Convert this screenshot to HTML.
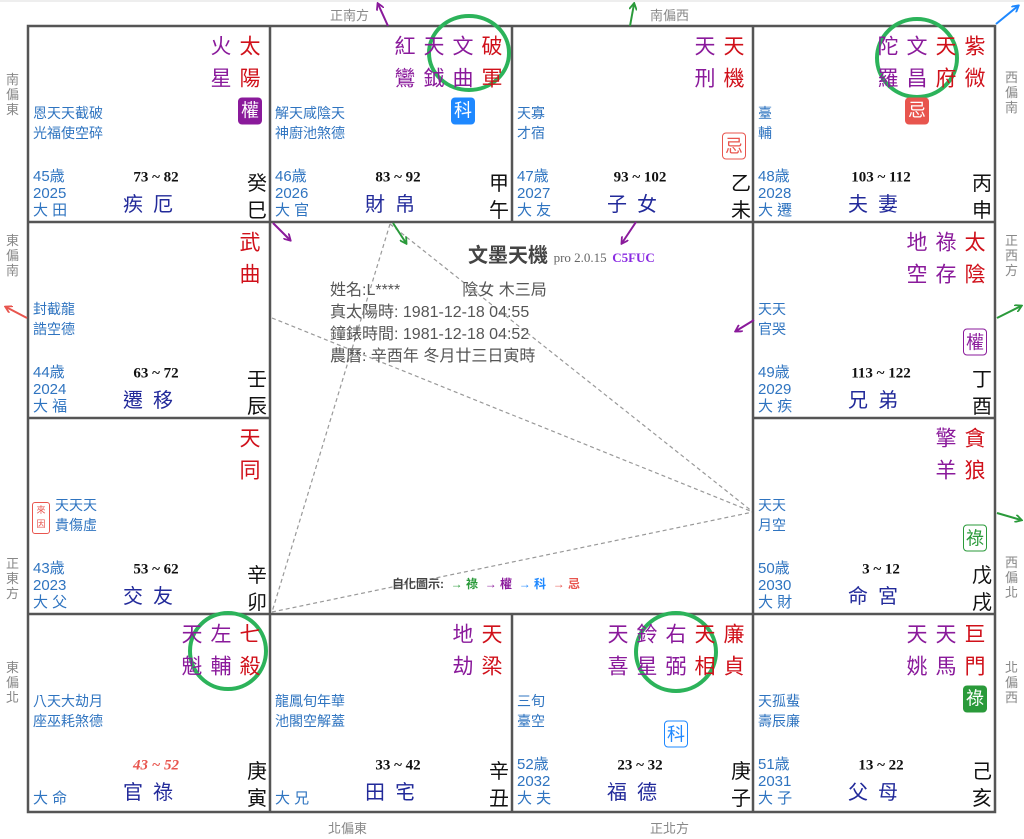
<!DOCTYPE html>
<html><head><meta charset="utf-8">
<style>
html,body{margin:0;padding:0;background:#fff;width:1024px;height:839px;overflow:hidden;position:relative;font-family:"Liberation Sans","Noto Sans CJK TC",sans-serif;}
.a{position:absolute;white-space:nowrap;line-height:1;}
.st{font-size:21px;transform:translate(-50%,-50%);}
.r{color:#d0101a}.p{color:#8a1a9b}
.mi{font-size:14px;color:#2f74c0;line-height:20px}
.ag{font-size:15px;color:#2f74c0;line-height:17px}
.rg{font-family:"Liberation Serif",serif;font-weight:bold;font-size:15px;color:#111;transform:translate(-50%,-50%)}
.nm{font-size:20px;color:#222a9a;transform:translate(-50%,-50%);letter-spacing:10px}
.sb{font-size:20px;color:#111;transform:translate(-50%,-50%)}
.bd{font-size:18px;width:24px;height:27px;line-height:27px;text-align:center;border-radius:4px;transform:translate(-50%,-50%);box-sizing:border-box}
.dir{font-size:13px;color:#888;line-height:15px}
.v{width:14px;white-space:normal;word-break:break-all}
</style></head><body>
<svg width="1024" height="839" style="position:absolute;left:0;top:0">
<line x1="0" y1="1" x2="1024" y2="1" stroke="#ddd"/>
<g stroke="#999" stroke-width="1.2" stroke-dasharray="4,3" fill="none">
<line x1="390" y1="224" x2="272" y2="612"/>
<line x1="390" y1="224" x2="753" y2="512"/>
<line x1="272" y1="318" x2="753" y2="512"/>
<line x1="272" y1="612" x2="753" y2="512"/>
</g>
<g stroke="#555" stroke-width="2.5" fill="none">
<rect x="28" y="26" width="967" height="786"/>
<line x1="28" y1="222" x2="270" y2="222"/><line x1="753" y1="222" x2="995" y2="222"/>
<line x1="28" y1="418" x2="270" y2="418"/><line x1="753" y1="418" x2="995" y2="418"/>
<line x1="28" y1="614" x2="995" y2="614"/><line x1="270" y1="222" x2="753" y2="222"/>
<line x1="270" y1="26" x2="270" y2="812"/><line x1="753" y1="26" x2="753" y2="812"/>
<line x1="512" y1="26" x2="512" y2="222"/><line x1="512" y1="614" x2="512" y2="812"/>
</g>
<defs>
<marker id="m" markerWidth="8" markerHeight="8" refX="6" refY="4" orient="auto" markerUnits="userSpaceOnUse"><path d="M0,0 L7,4 L0,8" fill="none" stroke="context-stroke" stroke-width="1.8"/></marker>
</defs>
<g stroke-width="2" fill="none" marker-end="url(#m)">
<line x1="388" y1="26" x2="378" y2="4" stroke="#8a1a9b"/>
<line x1="630" y1="26" x2="634" y2="4" stroke="#2a9a3a"/>
<line x1="996" y1="24" x2="1018" y2="6" stroke="#1e88ff"/>
<line x1="27" y1="318" x2="6" y2="307" stroke="#e8554e"/>
<line x1="997" y1="318" x2="1021" y2="306" stroke="#2a9a3a"/>
<line x1="997" y1="513" x2="1021" y2="520" stroke="#2a9a3a"/>
<line x1="273" y1="223" x2="290" y2="240" stroke="#8a1a9b"/>
<line x1="393" y1="223" x2="406" y2="243" stroke="#2a9a3a"/>
<line x1="636" y1="222" x2="622" y2="243" stroke="#8a1a9b"/>
<line x1="754" y1="320" x2="736" y2="331" stroke="#8a1a9b"/>
</g>
<g stroke="#2cb35a" stroke-width="4" fill="none">
<ellipse cx="469" cy="53" rx="40" ry="37"/>
<ellipse cx="917" cy="58" rx="40" ry="39"/>
<ellipse cx="228" cy="651" rx="38" ry="38"/>
<ellipse cx="676" cy="652" rx="40" ry="39"/>
</g>
</svg>

<div class="a dir" style="left:330px;top:8px">正南方</div>
<div class="a dir" style="left:650px;top:8px">南偏西</div>
<div class="a dir" style="left:328px;top:821px">北偏東</div>
<div class="a dir" style="left:650px;top:821px">正北方</div>
<div class="a dir v" style="left:6px;top:72px">南偏東</div>
<div class="a dir v" style="left:6px;top:233px">東偏南</div>
<div class="a dir v" style="left:6px;top:556px">正東方</div>
<div class="a dir v" style="left:6px;top:660px">東偏北</div>
<div class="a dir v" style="left:1005px;top:70px">西偏南</div>
<div class="a dir v" style="left:1005px;top:233px">正西方</div>
<div class="a dir v" style="left:1005px;top:555px">西偏北</div>
<div class="a dir v" style="left:1005px;top:660px">北偏西</div>

<div class="a" style="left:468px;top:246px;font-size:20px;font-weight:bold;color:#444">文墨天機 <span style="font-family:'Liberation Serif',serif;font-weight:normal;font-size:13px;color:#666">pro 2.0.15</span> <span style="font-family:'Liberation Serif',serif;font-size:13px;color:#8a2be2">C5FUC</span></div>
<div class="a" style="left:330px;top:280px;font-size:16px;color:#555;line-height:22px">姓名:L****<span style="display:inline-block;width:62px"></span>陰女 木三局<br>真太陽時: 1981-12-18 04:55<br>鐘錶時間: 1981-12-18 04:52<br>農曆: 辛酉年 冬月廿三日寅時</div>
<div class="a" style="left:392px;top:578px;font-size:12px;color:#444;font-weight:bold">自化圖示: &nbsp;<span style="color:#2a9a3a">→ 祿</span> &nbsp;<span style="color:#8a1a9b">→ 權</span> &nbsp;<span style="color:#1e88ff">→ 科</span> &nbsp;<span style="color:#e8554e">→ 忌</span></div>

<div class="a" style="left:32px;top:502px;width:16px;height:30px;border:1px solid #e8554e;border-radius:3px;color:#e8554e;font-size:9px;line-height:14px;text-align:center">來<br>因</div>

<div id="g"></div>
<script>
var L=[28,270,512,753],T=[26,222,418,614];
var C=[
[0,0,[['太陽','r'],['火星','p']],[0,'權','f','#8a1a9b'],'恩天天截破<br>光福使空碎',['45歳','2025','大田'],'73 ~ 82','疾厄','癸巳'],
[0,1,[['破軍','r'],['文曲','p'],['天鉞','p'],['紅鸞','p']],[1,'科','f','#1e88ff'],'解天咸陰天<br>神廚池煞德',['46歳','2026','大官'],'83 ~ 92','財帛','甲午'],
[0,2,[['天機','r'],['天刑','p']],[0,'忌','o','#e8554e'],'天寡<br>才宿',['47歳','2027','大友'],'93 ~ 102','子女','乙未'],
[0,3,[['紫微','r'],['天府','r'],['文昌','p'],['陀羅','p']],[2,'忌','f','#e8554e'],'臺<br>輔',['48歳','2028','大遷'],'103 ~ 112','夫妻','丙申'],
[1,0,[['武曲','r']],null,'封截龍<br>誥空德',['44歳','2024','大福'],'63 ~ 72','遷移','壬辰'],
[1,3,[['太陰','r'],['祿存','p'],['地空','p']],[0,'權','o','#8a1a9b'],'天天<br>官哭',['49歳','2029','大疾'],'113 ~ 122','兄弟','丁酉'],
[2,0,[['天同','r']],null,'<span style="padding-left:22px">天天天</span><br><span style="padding-left:22px">貴傷虛</span>',['43歳','2023','大父'],'53 ~ 62','交友','辛卯'],
[2,3,[['貪狼','r'],['擎羊','p']],[0,'祿','o','#2a9a3a'],'天天<br>月空',['50歳','2030','大財'],'3 ~ 12','命宮','戊戌'],
[3,0,[['七殺','r'],['左輔','p'],['天魁','p']],null,'八天大劫月<br>座巫耗煞德',['','','大命'],'43 ~ 52','官祿','庚寅'],
[3,1,[['天梁','r'],['地劫','p']],null,'龍鳳旬年華<br>池閣空解蓋',['','','大兄'],'33 ~ 42','田宅','辛丑'],
[3,2,[['廉貞','r'],['天相','r'],['右弼','p'],['鈴星','p'],['天喜','p']],[2,'科','o','#1e88ff'],'三旬<br>臺空',['52歳','2032','大夫'],'23 ~ 32','福德','庚子'],
[3,3,[['巨門','r'],['天馬','p'],['天姚','p']],[0,'祿','f','#2a9a3a'],'天孤蜚<br>壽辰廉',['51歳','2031','大子'],'13 ~ 22','父母','己亥']
];
var h='';
function d(c,x,y,t,s){h+='<div class="a '+c+'" style="left:'+x+'px;top:'+y+'px;'+(s||'')+'">'+t+'</div>';}
C.forEach(function(q){
 var x=L[q[1]],y=T[q[0]];
 q[2].forEach(function(s,i){var cx=x+222-i*29;d('st '+s[1],cx,y+21,s[0][0]);d('st '+s[1],cx,y+53,s[0][1]);});
 if(q[3]){var b=q[3],cx=x+222-b[0]*29,cy=y+(b[2]=='f'?85:120);
  var st=b[2]=='f'?'background:'+b[3]+';color:#fff;':'border:1.5px solid '+b[3]+';color:'+b[3]+';';
  d('bd',cx,cy,b[1],st);}
 d('mi',x+5,y+77,q[4]);
 d('ag',x+5,y+142,q[5][0]+'<br>'+q[5][1]+'<br>'+q[5][2].split('').join(' '));
 var rs=q[0]==3&&q[1]==0?'color:#e8554e;font-style:italic;':'';
 d('rg',x+128,y+152,q[6],rs);
 d('nm',x+125,y+179,q[7]);
 d('sb',x+229,y+158,q[8][0]);d('sb',x+229,y+185,q[8][1]);
});
document.getElementById('g').innerHTML=h;
</script>
</body></html>
